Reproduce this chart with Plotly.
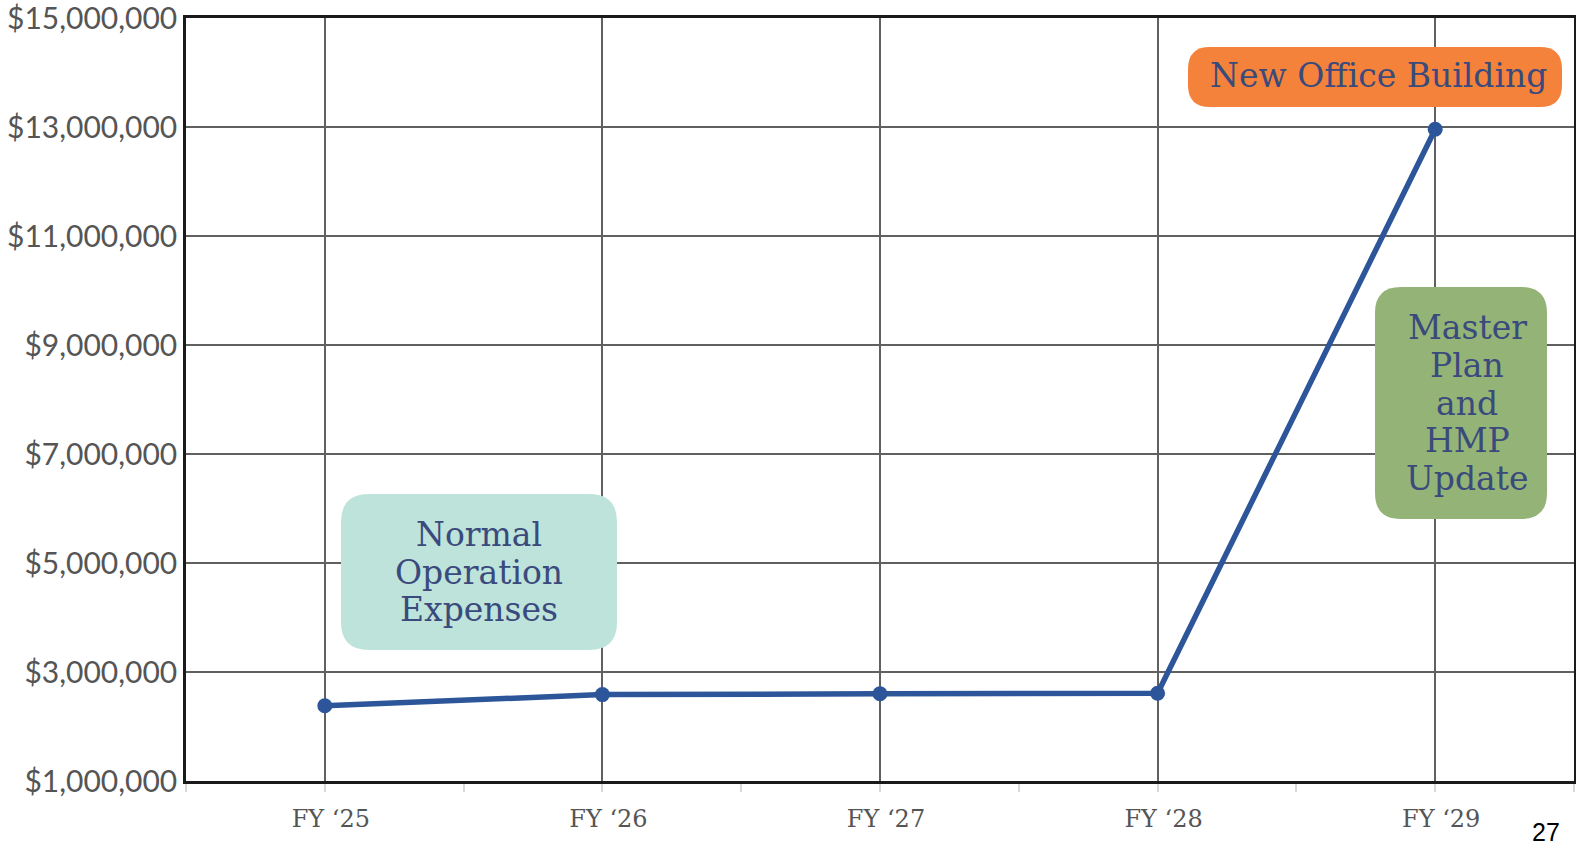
import plotly.graph_objects as go

categories = ["FY \u201825", "FY \u201826", "FY \u201827", "FY \u201828", "FY \u201829"]
values = [2380000, 2585000, 2600000, 2610000, 12960000]
y_ticks = [1000000, 3000000, 5000000, 7000000, 9000000, 11000000, 13000000, 15000000]

label_lines = [
    ["New Office Building"],
    ["Master", "Plan", "and", "HMP", "Update"],
    ["Normal", "Operation", "Expenses"],
]
label_colors = ["#F5823A", "#93B377", "#BDE3DA"]

W, H = 1576, 846
ML, MR, MT, MB = 186, 2, 18, 65
PW, PH = W - ML - MR, H - MT - MB

TEXT_COLOR = "#3A4A7C"
SLAB = "DejaVu Serif"
LINE_H = 37.5

xs = list(range(len(categories)))

fig = go.Figure()
fig.add_trace(go.Scatter(
    x=xs, y=values, mode="lines+markers",
    line=dict(color="#2C5699", width=5.5),
    marker=dict(color="#2C5699", size=15),
    hoverinfo="skip", showlegend=False,
))


def px_to_paper(x, y):
    return (x - ML) / PW, (MT + PH - y) / PH


def rounded_rect(x0, y0, x1, y1, r):
    def p(x, y):
        a, b = px_to_paper(x, y)
        return f"{a:.5f},{b:.5f}"
    return ("M " + p(x0 + r, y0) + " L " + p(x1 - r, y0) + " Q " + p(x1, y0) + " " + p(x1, y0 + r)
            + " L " + p(x1, y1 - r) + " Q " + p(x1, y1) + " " + p(x1 - r, y1)
            + " L " + p(x0 + r, y1) + " Q " + p(x0, y1) + " " + p(x0, y1 - r)
            + " L " + p(x0, y0 + r) + " Q " + p(x0, y0) + " " + p(x0 + r, y0) + " Z")


boxes = [
    (1188, 47, 1562, 107, 22),
    (1375, 287, 1547, 519, 26),
    (341, 494, 617, 650, 28),
]
centers = [(1378, 75), (1467, 403), (479, 572)]

shapes = []
annotations = []
for lines, color, (x0, y0, x1, y1, r), (cx, cy) in zip(label_lines, label_colors, boxes, centers):
    shapes.append(dict(type="path", xref="paper", yref="paper",
                       path=rounded_rect(x0, y0, x1, y1, r),
                       fillcolor=color, line=dict(width=0), layer="above"))
    n = len(lines)
    for i, t in enumerate(lines):
        ly = cy + (i - (n - 1) / 2) * LINE_H
        ax, ay = px_to_paper(cx, ly)
        annotations.append(dict(xref="paper", yref="paper", x=ax, y=ay, text=t,
                                showarrow=False, xanchor="center", yanchor="middle",
                                align="center",
                                font=dict(family=SLAB, size=33, color=TEXT_COLOR)))

px, py = px_to_paper(1546, 832)
annotations.append(dict(xref="paper", yref="paper", x=px, y=py, text="27",
                        showarrow=False, xanchor="center", yanchor="middle",
                        font=dict(family="Liberation Sans", size=25, color="#000000")))

fig.update_layout(
    width=W, height=H,
    margin=dict(l=ML, r=MR, t=MT, b=MB, pad=0, autoexpand=False),
    paper_bgcolor="white", plot_bgcolor="white",
    shapes=shapes, annotations=annotations,
    xaxis=dict(
        range=[-0.5, 4.5], tickmode="array", tickvals=xs, ticktext=categories,
        automargin=False,
        showgrid=True, gridcolor="#606060", gridwidth=2,
        showline=True, linecolor="#1a1a1a", linewidth=2.5, mirror=True,
        ticks="outside", ticklen=8, tickcolor="#d8d8d8", tickwidth=2,
        ticklabelstandoff=6, ticklabelshift=6,
        tickfont=dict(family=SLAB, size=24, color="#555555"),
        zeroline=False,
        minor=dict(tickmode="array", tickvals=[-0.5, 0.5, 1.5, 2.5, 3.5, 4.5],
                   ticks="outside", ticklen=8, tickcolor="#d8d8d8", tickwidth=2,
                   showgrid=False),
    ),
    yaxis=dict(
        range=[1000000, 15000000], tickmode="array", tickvals=y_ticks,
        tickformat="$,.0f", automargin=False,
        showgrid=True, gridcolor="#606060", gridwidth=2,
        showline=True, linecolor="#1a1a1a", linewidth=2.5, mirror=True,
        ticks="", ticklabelstandoff=0, ticklabeloverflow="allow",
        tickfont=dict(family="Lato", size=30, color="#555555"),
        zeroline=False,
    ),
)

fig.write_html(
    "out.html",
    config={"displayModeBar": False},
    post_script="document.body.style.margin='0px';document.body.style.overflow='hidden';",
)
